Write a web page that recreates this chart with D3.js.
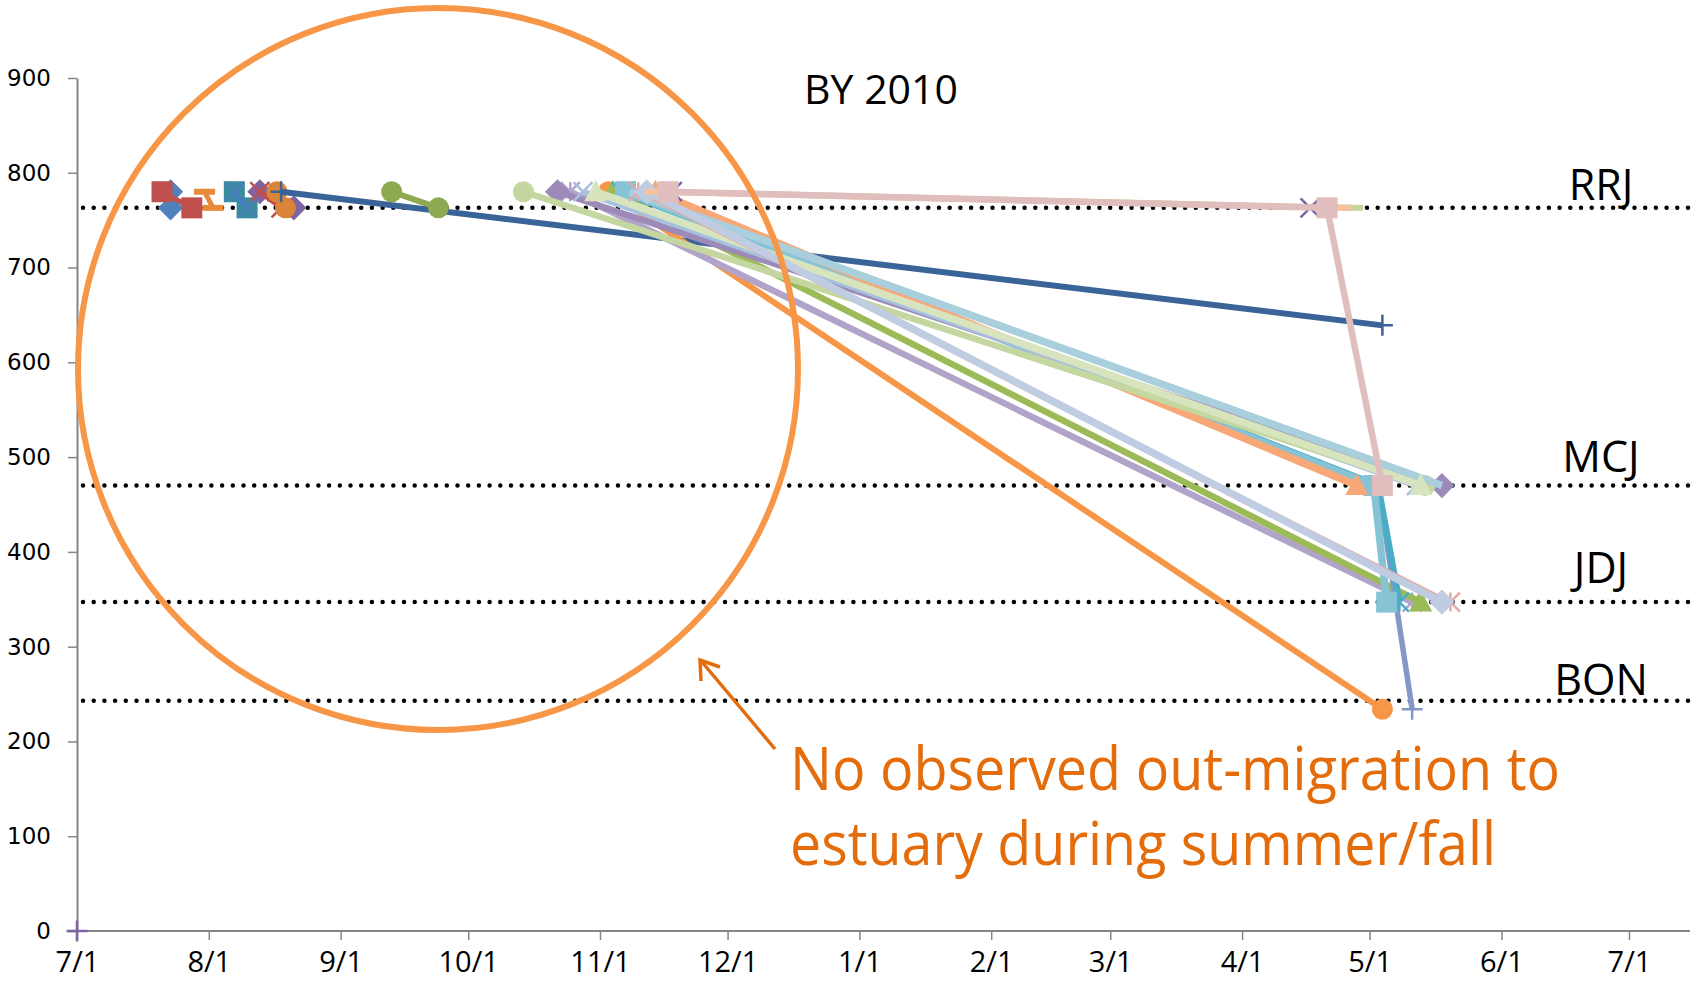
<!DOCTYPE html>
<html>
<head>
<meta charset="utf-8">
<script src="https://cdn.jsdelivr.net/npm/d3@7"></script>
<style>
  html, body { margin: 0; padding: 0; background: #fff; }
  #root { width: 1696px; height: 982px; }
</style>
</head>
<body>
<div id="root"></div>
<script>
// river km of detection sites and their labels
const siteNames = ["RRJ", "MCJ", "JDJ", "BON"];
const siteRkm = [763, 470, 347, 243];
const yTicks = [0, 100, 200, 300, 400, 500, 600, 700, 800, 900];
const xStart = "2010-07-01";
const xEnd = "2011-07-01";

// one track per fish: [date, rkm]
const fishTracks = [
  [["2010-07-01", 0]],
  [["2010-07-23", 780], ["2010-07-23", 763]],
  [["2010-07-21", 780], ["2010-07-28", 763]],
  [["2010-07-31", 780], ["2010-08-02", 763]],
  [["2010-08-07", 780], ["2010-08-10", 763]],
  [["2010-08-07", 780], ["2010-08-10", 763]],
  [["2010-08-13", 780], ["2010-08-21", 763]],
  [["2010-08-13", 780], ["2010-08-18", 763]],
  [["2010-08-17", 780], ["2010-08-19", 763]],
  [["2010-08-18", 780], ["2011-05-04", 639]],
  [["2010-09-13", 780], ["2010-09-24", 763]],
  [["2010-11-03", 780], ["2011-05-04", 234]],
  [["2010-10-25", 780], ["2011-05-11", 347]],
  [["2010-11-04", 780], ["2011-05-13", 347]],
  [["2010-11-09", 780], ["2011-05-03", 470], ["2011-05-11", 234]],
  [["2010-11-06", 780], ["2011-05-03", 470], ["2011-05-08", 347]],
  [["2010-11-07", 780], ["2011-05-02", 470], ["2011-05-05", 347]],
  [["2010-11-14", 780], ["2011-04-28", 470]],
  [["2010-10-22", 780], ["2011-05-18", 470]],
  [["2010-10-28", 780], ["2011-05-12", 470]],
  [["2010-10-14", 780], ["2011-05-14", 470]],
  [["2010-11-08", 780], ["2011-05-18", 470]],
  [["2010-10-31", 780], ["2011-05-13", 470]],
  [["2010-11-10", 780], ["2011-05-20", 347]],
  [["2010-11-12", 780], ["2011-05-18", 347]],
  [["2010-11-15", 780], ["2011-04-27", 763]],
  [["2010-11-14", 780], ["2011-04-24", 763]],
  [["2010-11-18", 780], ["2011-04-17", 763]],
  [["2010-11-17", 780], ["2011-04-21", 763], ["2011-05-04", 470]]
];
const trackColors = [
  "#8064A2", "#4F81BD", "#C0504D", "#E88A3A", "#3A8D9E", "#4A7EBB",
  "#8064A2", "#C0504D", "#DA8438", "#3A6398", "#8EA94F",
  "#F79646", "#B2A3C9", "#9BBB59", "#8497C7", "#4BACC6", "#86C3D4",
  "#F8A877", "#9C8BB8", "#A6C1E0", "#C4D7A0", "#A9CEDC", "#D7E4BD",
  "#E2A9A6", "#C0CCE2", "#C4D7A0", "#F9C29E", "#7E63A8", "#E0BEBE"
];
const trackMarkers = [
  "plus", "diamond", "square", "dash", "square", "x",
  "diamond", "x", "circle", "plus", "circle",
  "circle", "star", "triangle", "plus", "star", "square",
  "triangle", "diamond", "x", "circle", "none", "triangle",
  "star", "diamond", "dash", "dash", "x", "square"
];
const trackWidths = [
  5, 5, 5, 5, 5, 5, 5, 5, 5, 6, 6,
  6, 6.5, 6.5, 5.5, 6.5, 7.5, 7.5, 6.5, 6.5, 6.5, 7.5, 7.5, 3, 7.5, 6, 6, 3, 6.5
];

const width = 1696, height = 982;
const parse = d3.utcParse("%Y-%m-%d");

const x = d3.scaleUtc()
  .domain([parse(xStart), parse(xEnd)])
  .range([77, 1629]);
const y = d3.scaleLinear().domain([0, 900]).range([931, 78]);
const plotRight = 1690;

const svg = d3.select("#root").append("svg")
  .attr("width", width).attr("height", height)
  .attr("viewBox", [0, 0, width, height]);

// axes
const axisColor = "#868686";
const yAxis = svg.append("g").attr("transform", `translate(${x.range()[0]},0)`)
  .call(d3.axisLeft(y).tickValues(yTicks).tickSize(9).tickPadding(17).tickSizeOuter(0));
yAxis.select(".domain").attr("stroke", axisColor).attr("stroke-width", 2);
yAxis.selectAll(".tick line").attr("stroke", axisColor).attr("stroke-width", 1.5);
yAxis.selectAll(".tick text")
  .attr("font-family", "'DejaVu Sans', Verdana, sans-serif")
  .attr("font-size", 23).attr("fill", "#000");

const xTicks = d3.utcMonth.range(parse(xStart), d3.utcDay.offset(parse(xEnd), 1));
const xAxis = svg.append("g").attr("transform", `translate(0,${y(0)})`)
  .call(d3.axisBottom(x).tickValues(xTicks).tickFormat(d3.utcFormat("%-m/%-d"))
    .tickSize(9).tickPadding(11).tickSizeOuter(0));
xAxis.select(".domain").remove();
xAxis.append("line").attr("x1", x.range()[0]).attr("x2", plotRight)
  .attr("stroke", axisColor).attr("stroke-width", 2);
xAxis.selectAll(".tick line").attr("stroke", axisColor).attr("stroke-width", 1.5);
xAxis.selectAll(".tick text")
  .attr("font-family", "'Liberation Sans Narrow', 'Open Sans', sans-serif")
  .attr("font-size", 29).attr("fill", "#000");

// dotted site lines
svg.append("g").selectAll("line").data(siteRkm).join("line")
  .attr("x1", x.range()[0] + 6).attr("x2", plotRight)
  .attr("y1", d => y(d)).attr("y2", d => y(d))
  .attr("stroke", "#000").attr("stroke-width", 4.5)
  .attr("stroke-linecap", "round").attr("stroke-dasharray", "0 10.7");

// marker shapes
function markerPath(type, s) {
  const h = s / 2;
  switch (type) {
    case "square": return `M${-h},${-h}H${h}V${h}H${-h}Z`;
    case "diamond": return `M0,${-h * 1.2}L${h * 1.2},0L0,${h * 1.2}L${-h * 1.2},0Z`;
    case "triangle": return `M0,${-h * 1.15}L${h * 1.1},${h * 0.9}L${-h * 1.1},${h * 0.9}Z`;
    case "x": return `M${-h},${-h}L${h},${h}M${-h},${h}L${h},${-h}`;
    case "star": return `M${-h},${-h}L${h},${h}M${-h},${h}L${h},${-h}M0,${-h}V${h}`;
    case "plus": return `M${-h},0H${h}M0,${-h}V${h}`;
    case "dash": return `M${-h},${-3}H${h}V${3}H${-h}Z`;
  }
  return "";
}
const filled = { square: 1, diamond: 1, triangle: 1, dash: 1 };

const line = d3.line().x(d => x(parse(d[0]))).y(d => y(d[1]));
const tracksG = svg.append("g");
fishTracks.forEach((track, i) => {
  const col = trackColors[i];
  const mk = trackMarkers[i];
  const g = tracksG.append("g");
  if (track.length > 1) {
    g.append("path").attr("d", line(track)).attr("fill", "none")
      .attr("stroke", col).attr("stroke-width", trackWidths[i])
      .attr("stroke-linejoin", "round");
  }
  if (mk === "none") return;
  const pts = g.selectAll(".m").data(track).join("g")
    .attr("transform", d => `translate(${x(parse(d[0]))},${y(d[1])})`);
  if (mk === "circle") {
    pts.append("circle").attr("r", 10.5).attr("fill", col);
  } else if (filled[mk]) {
    pts.append("path").attr("d", markerPath(mk, 21)).attr("fill", col);
  } else {
    pts.append("path").attr("d", markerPath(mk, mk === "plus" ? 21 : 19))
      .attr("fill", "none").attr("stroke", col).attr("stroke-width", 2.5);
  }
});

// site labels
const labelFont = "'Open Sans', 'Noto Sans', sans-serif";
const siteLabelY = [200, 472, 583, 695];
svg.append("g").selectAll("text").data(siteNames).join("text")
  .attr("x", 1601).attr("y", (d, i) => siteLabelY[i])
  .attr("text-anchor", "middle").attr("font-family", labelFont)
  .attr("font-size", 43).attr("fill", "#000").text(d => d);

svg.append("text").attr("x", 881).attr("y", 104).attr("text-anchor", "middle")
  .attr("font-family", labelFont).attr("font-size", 41).attr("fill", "#000")
  .text("BY 2010");

// annotation: circle, arrow and note
svg.append("ellipse").attr("cx", 438).attr("cy", 369).attr("rx", 360).attr("ry", 361)
  .attr("fill", "none").attr("stroke", "#F79646").attr("stroke-width", 6);

const noteColor = "#E46C0A";
svg.append("line").attr("x1", 775).attr("y1", 749).attr("x2", 702).attr("y2", 662)
  .attr("stroke", noteColor).attr("stroke-width", 3.5);
svg.append("path").attr("d", "M701,681 L700,660 L720,667")
  .attr("fill", "none").attr("stroke", noteColor).attr("stroke-width", 3.5)
  .attr("stroke-linejoin", "miter");

const note = ["No observed out-migration to", "estuary during summer/fall"];
const noteLen = [770, 706];
svg.append("g").selectAll("text").data(note).join("text")
  .attr("x", 790).attr("y", (d, i) => 790 + i * 75)
  .attr("font-family", labelFont).attr("font-size", 60).attr("fill", noteColor)
  .attr("textLength", (d, i) => noteLen[i]).attr("lengthAdjust", "spacingAndGlyphs")
  .text(d => d);
</script>
</body>
</html>
